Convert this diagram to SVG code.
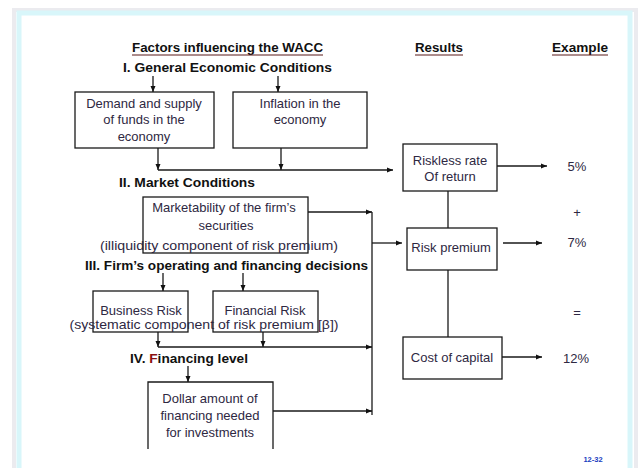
<svg xmlns="http://www.w3.org/2000/svg" width="639" height="468" viewBox="0 0 639 468">
<defs>
<marker id="ah" markerWidth="6" markerHeight="6" refX="6" refY="3" orient="auto" markerUnits="userSpaceOnUse">
<path d="M0,0.5 L6,3 L0,5.5 z" fill="#111"/>
</marker>
<style>
.h{font-family:"Liberation Sans",Arial,sans-serif;font-size:13px;font-weight:bold;fill:#111}
.t{font-family:"Liberation Sans",Arial,sans-serif;font-size:13px;fill:#2e2842;text-anchor:middle}
.v{font-family:"Liberation Sans",Arial,sans-serif;font-size:13px;fill:#2e2842;text-anchor:middle}
.box{fill:none;stroke:#1a1a1a;stroke-width:1.3}
.c{fill:none;stroke:#1a1a1a;stroke-width:1.3}
.a{marker-end:url(#ah)}
.ul{stroke:#5a1a1a;stroke-width:1.2}
</style>
</defs>
<rect x="0" y="0" width="639" height="468" fill="#fff"/>
<rect x="14" y="10" width="622" height="500" fill="none" stroke="#ebebef" stroke-width="4"/>
<rect x="19" y="13" width="611" height="500" fill="none" stroke="#d8f6fa" stroke-width="5"/>

<g id="headings">
<text class="h" x="132" y="52" textLength="191" lengthAdjust="spacingAndGlyphs">Factors influencing the WACC</text>
<line class="ul" x1="132" y1="55" x2="323" y2="55"/>
<text class="h" x="415" y="52" textLength="48" lengthAdjust="spacingAndGlyphs">Results</text>
<line class="ul" x1="415" y1="55" x2="463" y2="55"/>
<text class="h" x="552" y="52" textLength="56" lengthAdjust="spacingAndGlyphs">Example</text>
<line class="ul" x1="552" y1="55" x2="608" y2="55"/>
<text class="h" x="123" y="72" textLength="209" lengthAdjust="spacingAndGlyphs">I.  General Economic Conditions</text>
<text class="h" x="119" y="187" textLength="136" lengthAdjust="spacingAndGlyphs">II.  Market Conditions</text>
<text class="h" x="85" y="270" textLength="283" lengthAdjust="spacingAndGlyphs">III.  Firm’s operating and financing decisions</text>
<text class="h" x="130" y="363" textLength="118" lengthAdjust="spacingAndGlyphs">IV.  <tspan fill="#8b1010">F</tspan>inancing level</text>
</g>

<g id="demand">
<rect class="box" x="75" y="92" width="139" height="56"/>
<text class="t" x="144" y="108">Demand and supply</text>
<text class="t" x="144" y="124">of funds in the</text>
<text class="t" x="144" y="141">economy</text>
</g>
<g id="inflation">
<rect class="box" x="233" y="92" width="134" height="56"/>
<text class="t" x="300" y="108">Inflation in the</text>
<text class="t" x="300" y="124">economy</text>
</g>
<g id="marketability">
<rect class="box" x="143" y="197" width="165" height="56"/>
<text class="t" x="224" y="212">Marketability of the firm’s</text>
<text class="t" x="226" y="230">securities</text>
<text class="t" x="219" y="250" textLength="238" lengthAdjust="spacingAndGlyphs">(illiquidity component of risk premium)</text>
</g>
<g id="business">
<rect class="box" x="93" y="291" width="95" height="41"/>
<text class="t" x="141" y="315">Business Risk</text>
</g>
<g id="financial">
<rect class="box" x="213" y="291" width="105" height="41"/>
<text class="t" x="265" y="315">Financial Risk</text>
</g>
<g id="systematic">
<text class="t" x="204" y="329" textLength="269" lengthAdjust="spacingAndGlyphs">(systematic component of risk premium [β])</text>
</g>
<g id="dollar">
<path class="box" d="M148,449 V382 H273 V449"/>
<text class="t" x="210" y="403">Dollar amount of</text>
<text class="t" x="210" y="420">financing needed</text>
<text class="t" x="210" y="437">for investments</text>
</g>
<g id="riskless">
<rect class="box" x="403" y="144" width="94" height="47"/>
<text class="t" x="450" y="165">Riskless rate</text>
<text class="t" x="450" y="181">Of return</text>
</g>
<g id="riskpremium">
<rect class="box" x="407" y="228" width="90" height="42"/>
<text class="t" x="451" y="252">Risk premium</text>
</g>
<g id="costofcapital">
<rect class="box" x="403" y="337" width="99" height="42"/>
<text class="t" x="452" y="362">Cost of capital</text>
</g>
<g id="examples">
<text class="v" x="577" y="171">5%</text>
<text class="v" x="577" y="217">+</text>
<text class="v" x="577" y="247">7%</text>
<text class="v" x="577" y="317">=</text>
<text class="v" x="576" y="363">12%</text>
</g>
<g id="pagenum">
<text x="593" y="462" font-family="Liberation Sans, Arial, sans-serif" font-size="7.5" font-weight="bold" fill="#2040c0" text-anchor="middle">12-32</text>
</g>

<g id="connectors">
<path class="c a" d="M153,76 V92"/>
<path class="c a" d="M278,76 V92"/>
<path class="c a" d="M158,148 V170"/>
<path class="c a" d="M281,148 V170"/>
<path class="c a" d="M158,170 H393"/>
<path class="c a" d="M308,212 H372"/>
<path class="c" d="M372,212 V415"/>
<path class="c a" d="M372,243 H402"/>
<path class="c a" d="M163,273 V291"/>
<path class="c a" d="M243,273 V291"/>
<path class="c a" d="M158,332 V347"/>
<path class="c a" d="M263,332 V347"/>
<path class="c a" d="M158,347 H372"/>
<path class="c a" d="M188,366 V382"/>
<path class="c a" d="M273,411 H372"/>
<path class="c" d="M448,191 V228"/>
<path class="c" d="M448,270 V337"/>
<path class="c a" d="M497,166 H547"/>
<path class="c a" d="M503,243 H542"/>
<path class="c a" d="M502,357 H542"/>
</g>
</svg>
